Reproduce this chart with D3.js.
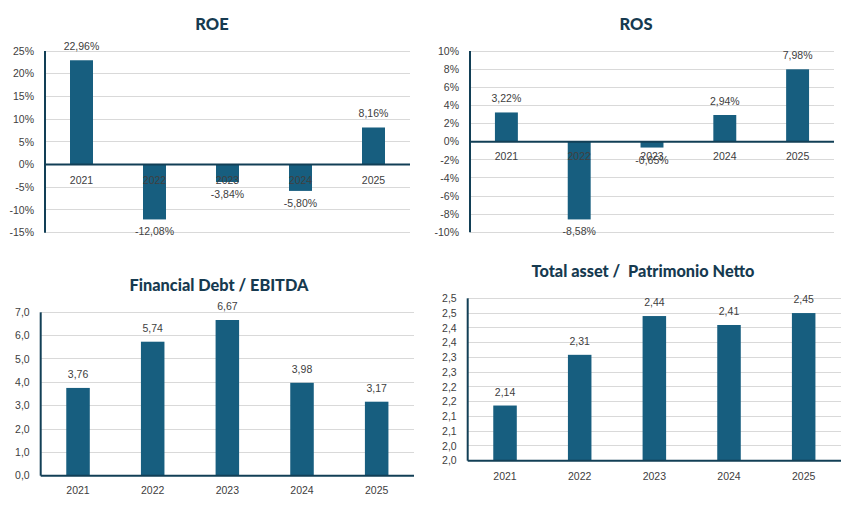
<!DOCTYPE html>
<html><head><meta charset="utf-8">
<script src="https://cdn.jsdelivr.net/npm/d3@7"></script>
<style>
html,body{margin:0;padding:0;background:#fff;}
svg{display:block;}
</style></head>
<body>
<svg id="c" width="857" height="520"></svg>
<script>
const years = ["2021","2022","2023","2024","2025"];
const roeValues = [0.2296, -0.1208, -0.0384, -0.0580, 0.0816];
const roeLabels = ["22,96%","-12,08%","-3,84%","-5,80%","8,16%"];
const roeTicks = [-0.15,-0.10,-0.05,0,0.05,0.10,0.15,0.20,0.25];
const roeTickLabels = ["-15%","-10%","-5%","0%","5%","10%","15%","20%","25%"];
const rosValues = [0.0322, -0.0858, -0.0065, 0.0294, 0.0798];
const rosLabels = ["3,22%","-8,58%","-0,65%","2,94%","7,98%"];
const rosTicks = [-0.10,-0.08,-0.06,-0.04,-0.02,0,0.02,0.04,0.06,0.08,0.10];
const rosTickLabels = ["-10%","-8%","-6%","-4%","-2%","0%","2%","4%","6%","8%","10%"];
const debtValues = [3.76, 5.74, 6.67, 3.98, 3.17];
const debtLabels = ["3,76","5,74","6,67","3,98","3,17"];
const debtTicks = [0,1,2,3,4,5,6,7];
const debtTickLabels = ["0,0","1,0","2,0","3,0","4,0","5,0","6,0","7,0"];
const assetValues = [2.14, 2.31, 2.44, 2.41, 2.45];
const assetLabels = ["2,14","2,31","2,44","2,41","2,45"];
const assetMin = 1.955, assetStep = 0.0495;
const assetTicks = d3.range(12).map(i => assetMin + i*assetStep);
const assetTickLabels = ["2,0","2,0","2,1","2,1","2,2","2,2","2,3","2,3","2,4","2,4","2,5","2,5"];

const svg = d3.select("#c");
const BAR = "#175e7f", AXIS = "#123f56", GRID = "#d9d9d9", TXT = "#404040", TITLE = "#163a50";
const TICKFONT = "'Liberation Sans', Arial, sans-serif";
const TITLEFONT = "Lato, 'Noto Sans', sans-serif";

function chart(o){
  const g = svg.append("g");
  const x = d3.scaleBand().domain(years).range([o.x0, o.x1]).paddingInner(0.685).paddingOuter(0.3425);
  const y = d3.scaleLinear().domain(o.domain).range([o.yBot, o.yTop]);
  g.selectAll(".grid").data(o.ticks).join("line")
    .attr("x1", o.x0).attr("x2", o.x1)
    .attr("y1", d => y(d)).attr("y2", d => y(d))
    .attr("stroke", GRID).attr("stroke-width", 1).attr("shape-rendering","crispEdges");
  g.selectAll(".tl").data(o.ticks).join("text")
    .attr("x", o.x0 - 11).attr("y", d => y(d)).attr("dy","0.36em")
    .attr("text-anchor","end").attr("font-family", TICKFONT).attr("font-size", "10.5px")
    .attr("fill", TXT).text((d,i) => o.tickLabels[i]);
  const base = y(o.base);
  g.selectAll(".bar").data(o.values).join("rect")
    .attr("x", (d,i) => x(years[i])).attr("width", x.bandwidth())
    .attr("y", d => d >= o.base ? y(d) : base)
    .attr("height", d => Math.abs(y(d) - base))
    .attr("fill", BAR);
  g.append("line").attr("x1", o.x0).attr("x2", o.x1).attr("y1", base).attr("y2", base)
    .attr("stroke", AXIS).attr("stroke-width", 2);
  g.append("line").attr("x1", o.x0).attr("x2", o.x0).attr("y1", o.yTop).attr("y2", o.yBot)
    .attr("stroke", AXIS).attr("stroke-width", 2);
  g.selectAll(".cat").data(years).join("text")
    .attr("x", d => x(d) + x.bandwidth()/2).attr("y", base + o.catOff)
    .attr("text-anchor","middle").attr("font-family", TICKFONT).attr("font-size","10.5px")
    .attr("fill", TXT).text(d => d);
  g.selectAll(".dl").data(o.values).join("text")
    .attr("x", (d,i) => x(years[i]) + x.bandwidth()/2)
    .attr("y", d => d >= o.base ? y(d) - 10 : y(d) + 16)
    .attr("text-anchor","middle").attr("font-family", TICKFONT).attr("font-size","10.5px")
    .attr("fill", TXT).text((d,i) => o.labels[i]);
  g.append("text").attr("x", o.tx).attr("y", o.ty).attr("dy","0.35em")
    .attr("text-anchor","middle").attr("font-family", TITLEFONT).attr("font-weight","900")
    .attr("font-size", o.tsize).attr("fill", TITLE).attr("xml:space","preserve").text(o.title);
}

chart({title:"ROE", tx:212, ty:24, tsize:"16.5px", x0:45, x1:410, yTop:51, yBot:232.7,
  domain:[-0.15,0.25], base:0, ticks:roeTicks, tickLabels:roeTickLabels, values:roeValues, labels:roeLabels, catOff:19.4});
chart({title:"ROS", tx:636, ty:24, tsize:"16.5px", x0:470, x1:834, yTop:51, yBot:232.3,
  domain:[-0.10,0.10], base:0, ticks:rosTicks, tickLabels:rosTickLabels, values:rosValues, labels:rosLabels, catOff:18});
chart({title:"Financial Debt / EBITDA", tx:219, ty:285.7, tsize:"16.3px", x0:40.7, x1:414, yTop:312.3, yBot:475.7,
  domain:[0,7], base:0, ticks:debtTicks, tickLabels:debtTickLabels, values:debtValues, labels:debtLabels, catOff:18});
chart({title:"Total asset /  Patrimonio Netto", tx:643, ty:271.7, tsize:"16.3px", x0:467.7, x1:841, yTop:298.3, yBot:460.7,
  domain:[assetMin, assetMin + 11*assetStep], base:assetMin, ticks:assetTicks, tickLabels:assetTickLabels, values:assetValues, labels:assetLabels, catOff:19});
</script>
</body></html>
